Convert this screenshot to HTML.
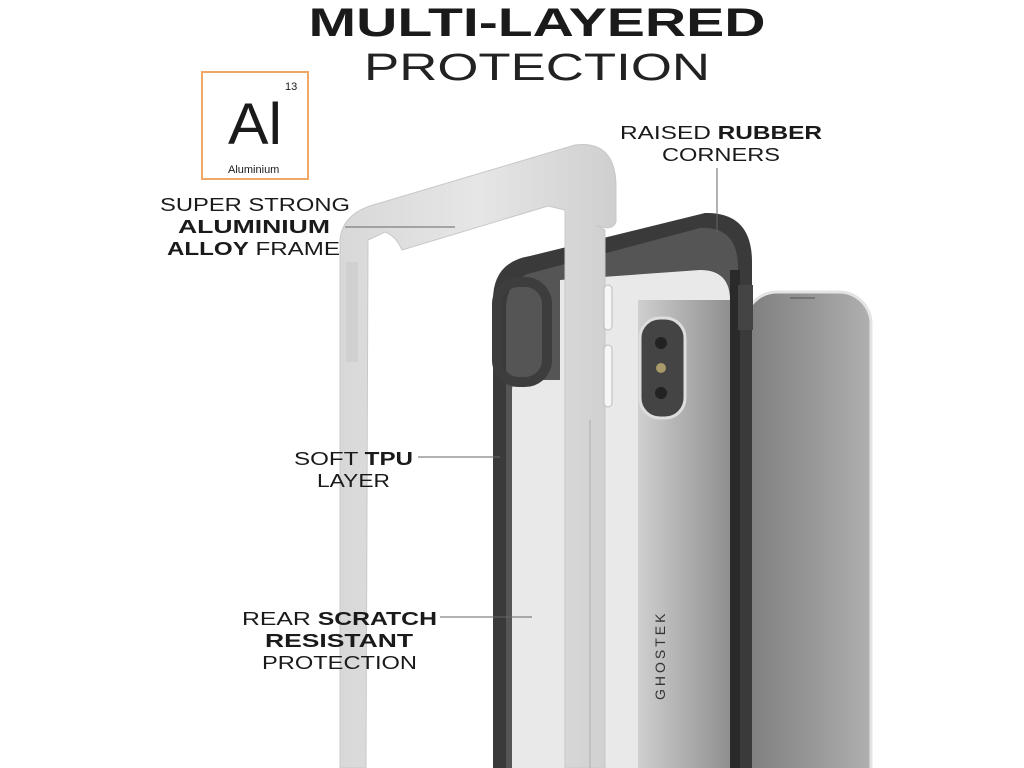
<!DOCTYPE html>
<html><head><meta charset="utf-8"><style>
html,body{margin:0;padding:0;background:#fff;width:1024px;height:768px;overflow:hidden}
svg{display:block}
text{font-family:"Liberation Sans",sans-serif;fill:#1a1a1a}
</style></head><body>
<svg width="1024" height="768" viewBox="0 0 1024 768" xmlns="http://www.w3.org/2000/svg">
<defs>
<linearGradient id="ph" x1="0" x2="1" y1="0" y2="0"><stop offset="0" stop-color="#7e7e7e"/><stop offset="0.5" stop-color="#959595"/><stop offset="1" stop-color="#b0b0b0"/></linearGradient>
<linearGradient id="back" x1="0" x2="1" y1="0" y2="0"><stop offset="0" stop-color="#cfcfcf"/><stop offset="1" stop-color="#8e8e8e"/></linearGradient>
<linearGradient id="sil" x1="0" x2="1" y1="0" y2="0"><stop offset="0" stop-color="#d8d8d8"/><stop offset="0.5" stop-color="#e6e6e6"/><stop offset="1" stop-color="#cfcfcf"/></linearGradient>
</defs>
<text x="537" y="36" text-anchor="middle" font-size="40" font-weight="bold" textLength="457" lengthAdjust="spacingAndGlyphs">MULTI-LAYERED</text>
<text x="537" y="80" text-anchor="middle" font-size="38" textLength="346" lengthAdjust="spacingAndGlyphs" style="fill:#222">PROTECTION</text>
<rect x="202" y="72" width="106" height="107" fill="#fff" stroke="#f0a868" stroke-width="2"/>
<text x="285" y="90" font-size="11">13</text>
<text x="228" y="144" font-size="58" textLength="54" lengthAdjust="spacingAndGlyphs">Al</text>
<text x="228" y="173" font-size="11">Aluminium</text>
<rect x="745" y="292" width="126" height="520" rx="32" fill="url(#ph)" stroke="#e4e4e4" stroke-width="3"/>
<line x1="790" y1="298" x2="815" y2="298" stroke="#555" stroke-width="1"/>
<path d="M493 768 L493 300 Q493 262 530 256 L705 213 Q752 212 752 262 L752 768 Z" fill="#3a3a3a"/>
<path d="M506 768 L506 310 Q506 278 535 272 L700 228 Q738 226 738 268 L738 768 Z" fill="#555"/>
<path d="M512 768 L512 390 Q512 380 525 380 L560 380 L560 280 L700 270 Q730 270 730 300 L730 768 Z" fill="#e9e9e9"/>
<rect x="638" y="300" width="94" height="470" fill="url(#back)"/>
<rect x="640" y="318" width="45" height="100" rx="20" fill="#444" stroke="#ddd" stroke-width="3"/>
<circle cx="661" cy="343" r="6" fill="#222"/><circle cx="661" cy="368" r="5" fill="#a89a6a"/><circle cx="661" cy="393" r="6" fill="#222"/>
<rect x="730" y="270" width="10" height="498" fill="#2a2a2a"/>
<rect x="738" y="285" width="15" height="45" fill="#444"/>
<rect x="497" y="282" width="50" height="100" rx="22" fill="none" stroke="#3d3d3d" stroke-width="10"/>
<text transform="translate(665,700) rotate(-90)" font-size="14" letter-spacing="3" style="fill:#333">GHOSTEK</text>
<path d="M340 768 L340 240 Q342 212 380 203 L575 145 Q615 140 616 185 L616 222 Q612 232 596 225 L605 230 L605 768 L565 768 L565 210 L548 206 L402 250 Q396 236 385 232 L368 240 L366 768 Z" fill="url(#sil)" stroke="#c8c8c8" stroke-width="1"/>
<rect x="604" y="285" width="8" height="45" rx="4" fill="#f6f6f6" stroke="#bbb"/>
<rect x="604" y="345" width="8" height="62" rx="4" fill="#f6f6f6" stroke="#bbb"/>
<line x1="590" y1="420" x2="590" y2="768" stroke="#c0c0c0" stroke-width="2"/>
<rect x="346" y="262" width="12" height="100" fill="#d0d0d0"/>
<text x="160" y="211" font-size="18" textLength="190" lengthAdjust="spacingAndGlyphs">SUPER STRONG</text>
<text x="178" y="233" font-size="18" font-weight="bold" textLength="152" lengthAdjust="spacingAndGlyphs">ALUMINIUM</text>
<text x="167" y="255" font-size="18" textLength="173" lengthAdjust="spacingAndGlyphs"><tspan font-weight="bold">ALLOY</tspan> FRAME</text>
<line x1="345" y1="227" x2="455" y2="227" stroke="#666" stroke-width="1"/>
<text x="620" y="139" font-size="18" textLength="202" lengthAdjust="spacingAndGlyphs">RAISED <tspan font-weight="bold">RUBBER</tspan></text>
<text x="662" y="161" font-size="18" textLength="118" lengthAdjust="spacingAndGlyphs">CORNERS</text>
<line x1="717" y1="168" x2="717" y2="232" stroke="#666" stroke-width="1"/>
<text x="294" y="465" font-size="18" textLength="119" lengthAdjust="spacingAndGlyphs">SOFT <tspan font-weight="bold">TPU</tspan></text>
<text x="317" y="487" font-size="18" textLength="73" lengthAdjust="spacingAndGlyphs">LAYER</text>
<line x1="418" y1="457" x2="500" y2="457" stroke="#666" stroke-width="1"/>
<text x="242" y="625" font-size="18" textLength="195" lengthAdjust="spacingAndGlyphs">REAR <tspan font-weight="bold">SCRATCH</tspan></text>
<text x="265" y="647" font-size="18" font-weight="bold" textLength="148" lengthAdjust="spacingAndGlyphs">RESISTANT</text>
<text x="262" y="669" font-size="18" textLength="155" lengthAdjust="spacingAndGlyphs">PROTECTION</text>
<line x1="440" y1="617" x2="532" y2="617" stroke="#666" stroke-width="1"/>
</svg>
</body></html>
